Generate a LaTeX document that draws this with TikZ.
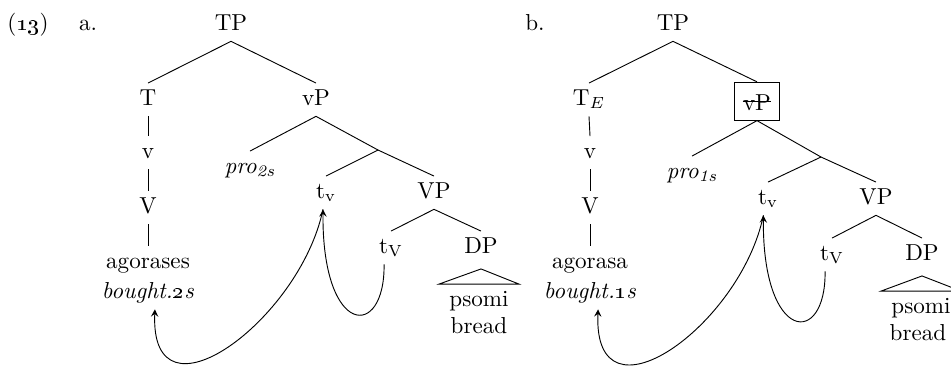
\documentclass[tikz,border=0pt]{standalone}

\begin{document}
\begin{tikzpicture}[x=.433pt,y=-.433pt,font=\fontsize{10}{12}\selectfont,>=stealth,
    gone/.style={draw,text height=7.6pt,text depth=0pt,inner ysep=4.4pt,inner xsep=3.7pt}]

      \useasboundingbox (0,0) rectangle (951,366);

      \node[anchor=base] (ex) at (28,30)  {(\oldstylenums{13})};
      \node[anchor=base] (a)  at (88,30)  {a.};
      \node[anchor=base] (b)  at (535,30) {b.};

      \begin{scope}[every node/.style={anchor=base,text height=6.8pt,text depth=2.2pt,inner ysep=2.5pt}]
        % tree a
        \node (TP1)    at (231,30)  {TP};
        \node (T1)     at (148,105) {T};
        \node (vP1)    at (316,105) {vP};
        \node (v1)     at (148,158) {v};
        \node (V1)     at (148,213) {V};
        \node (agor1)  at (148,268) {agorases};
        \node (gloss1) at (148,298) {\textit{bought.\oldstylenums{2}s}};
        \node (pro1)   at (250,173) {\textit{pro\textsubscript{2s}}};
        \node (tv1)    at (326,198) {t\textsubscript{v}};
        \node (VP1)    at (434,198) {VP};
        \node (tV1)    at (391,253) {t\textsubscript{V}};
        \node (DP1)    at (481,253) {DP};
        \node (psomi1) at (479,306) {psomi};
        \node (bread1) at (479,333) {bread};
        \coordinate (vbar1) at (378,150);

        % tree b
        \node (TP2)    at (673,30)  {TP};
        \node (T2)     at (589,105) {T$_E$};
        \node[gone] (vP2) at (757,110) {vP};
        \node (v2)     at (590,158) {v};
        \node (V2)     at (590,213) {V};
        \node (agor2)  at (590,268) {agorasa};
        \node (gloss2) at (590,298) {\textit{bought.\oldstylenums{1}s}};
        \node (pro2)   at (692,178) {\textit{pro\textsubscript{1s}}};
        \node (tv2)    at (768,204) {t\textsubscript{v}};
        \node (VP2)    at (876,204) {VP};
        \node (tV2)    at (832,260) {t\textsubscript{V}};
        \node (DP2)    at (922,260) {DP};
        \node (psomi2) at (921,313) {psomi};
        \node (bread2) at (918,340) {bread};
        \coordinate (vbar2) at (821,157);
      \end{scope}

      \begin{scope}[every edge/.style={draw}]
        \path (TP1.south) edge (T1.north);
        \path (TP1.south) edge (vP1.north);
        \path (T1.south)  edge (v1.north);
        \path (v1.south)  edge (V1.north);
        \path (V1.south)  edge (agor1.north);
        \path (vP1.south) edge (pro1.north);
        \path (vP1.south) edge (vbar1);
        \path (vbar1)     edge (tv1.north);
        \path (vbar1)     edge (VP1.north);
        \path (VP1.south) edge (tV1.north);
        \path (VP1.south) edge (DP1.north);

        \path (TP2.south) edge (T2.north);
        \path (TP2.south) edge (vP2.north);
        \path (T2.south)  edge (v2.north);
        \path (v2.south)  edge (V2.north);
        \path (V2.south)  edge (agor2.north);
        \path (vP2.south) edge (pro2.north);
        \path (vP2.south) edge (vbar2);
        \path (vbar2)     edge (tv2.north);
        \path (vbar2)     edge (VP2.north);
        \path (VP2.south) edge (tV2.north);
        \path (VP2.south) edge (DP2.north);
      \end{scope}

      % triangles over psomi
      \draw ([yshift=-2pt]DP1.south) -- ([xshift=-17.3pt]psomi1.north) -- ([xshift=17.3pt]psomi1.north) -- cycle;
      \draw ([yshift=-2pt]DP2.south) -- ([xshift=-17.3pt]psomi2.north) -- ([xshift=17.3pt]psomi2.north) -- cycle;

      % strike through the elided vP
      \draw ([xshift=3.7pt,yshift=3.9pt]vP2.base west) -- ([xshift=-3.7pt,yshift=3.9pt]vP2.base east);

      % head movement
      \draw[->] ([xshift=-3pt]tV1.south) .. controls +(1,76) and +(-1,128) .. ([xshift=-1.3pt]tv1.south);
      \draw[->] ([xshift=-1.3pt]tv1.south) .. controls +(-23,111) and +(-5,121) .. ([xshift=3pt]gloss1.south);
      \draw[->] ([xshift=-3pt]tV2.south) .. controls +(1,76) and +(-1,128) .. ([xshift=-2pt]tv2.south);
      \draw[->] ([xshift=-2pt]tv2.south) .. controls +(-23,111) and +(-5,121) .. ([xshift=3.5pt]gloss2.south);

    \end{tikzpicture}
\end{document}
